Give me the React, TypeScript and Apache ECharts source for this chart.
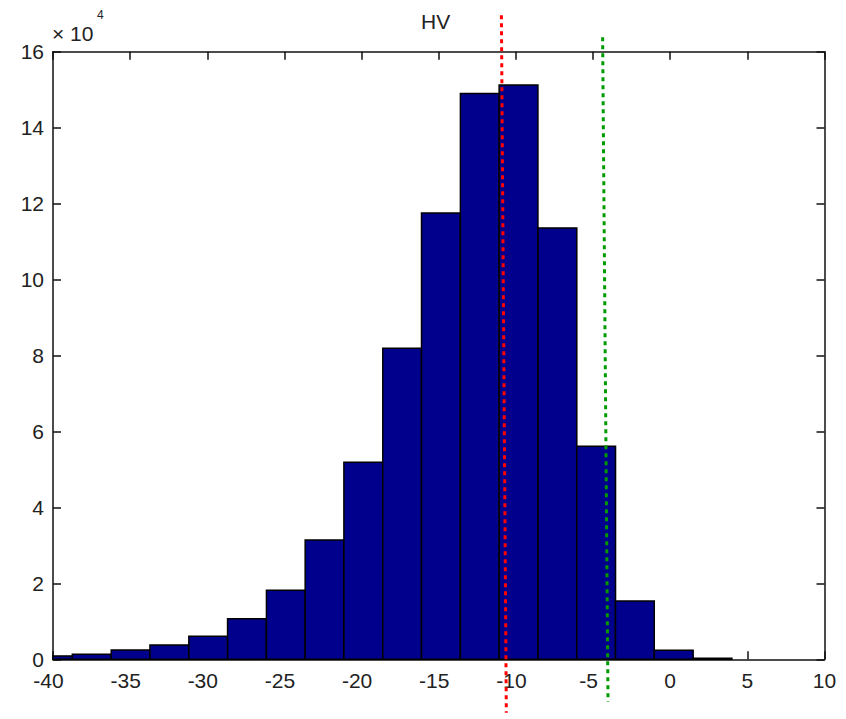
import React, { useEffect, useRef } from "react";
import * as echarts from "echarts";

// Histogram of HV values: bin centres and counts per bin
const binCenters = [
  -40.0, -37.49, -34.97, -32.46, -29.94, -27.43, -24.91, -22.4, -19.89,
  -17.37, -14.86, -12.34, -9.83, -7.31, -4.8, -2.29, 0.23, 2.74,
];
const binWidth = 2.514;
const counts = [
  900, 1300, 2450, 3750, 6050, 10700, 18200, 31400, 51900, 81900, 117500,
  149000, 151200, 113600, 56100, 15350, 2370, 260,
];

// Threshold markers: [xTop, yTop, xBottom, yBottom]
const thresholdLines = [
  [-10.94, 169600, -10.62, -14100],
  [-4.38, 163800, -4.03, -11200],
];
const thresholdColors = ["#ff0000", "#009a00"];

const xTicks = { min: -40, max: 10, interval: 5 };
const yTicks = { min: 0, max: 160000, interval: 20000 };
const yScale = 10000;

const FONT = "Liberation Sans, Arial, Helvetica, sans-serif";
const AXIS_COLOR = "#111";

export default function App() {
  const ref = useRef<HTMLDivElement>(null);

  useEffect(() => {
    document.body.style.margin = "0";
    if (!ref.current) return;
    const chart = echarts.init(ref.current, undefined, { renderer: "svg" });

    const axisCommon = {
      type: "value" as const,
      splitLine: { show: false },
      axisLine: {
        show: true,
        onZero: false,
        lineStyle: { color: AXIS_COLOR, width: 1.5 },
      },
      axisTick: {
        show: true,
        inside: true,
        length: 8,
        lineStyle: { color: AXIS_COLOR, width: 1.5 },
      },
    };

    chart.setOption({
      animation: false,
      backgroundColor: "#ffffff",
      title: {
        text: "HV",
        left: 421,
        top: 11,
        padding: 0,
        textStyle: {
          fontFamily: FONT,
          fontSize: 21,
          fontWeight: "normal",
          color: "#222",
        },
      },
      graphic: [
        {
          type: "text",
          left: 52,
          top: 23,
          style: {
            text: "× 10",
            font: `21px ${FONT}`,
            fill: "#222",
          },
        },
        {
          type: "text",
          left: 97,
          top: 9,
          style: {
            text: "4",
            font: `12px ${FONT}`,
            fill: "#222",
          },
        },
      ],
      grid: { left: 53, right: 21.5, top: 51.7, bottom: 59.7, containLabel: false },
      xAxis: [
        {
          ...axisCommon,
          position: "bottom",
          ...xTicks,
          axisLabel: {
            fontFamily: FONT,
            fontSize: 21,
            color: "#222",
            margin: 11,
            formatter: (v: number) => (v < 0 ? `{n|${v}}` : `${v}`),
            rich: {
              n: {
                fontFamily: FONT,
                fontSize: 21,
                color: "#222",
                padding: [0, 9, 0, 0],
              },
            },
          },
        },
        {
          ...axisCommon,
          position: "top",
          ...xTicks,
          axisLabel: { show: false },
        },
      ],
      yAxis: [
        {
          ...axisCommon,
          position: "left",
          ...yTicks,
          axisLabel: {
            fontFamily: FONT,
            fontSize: 21,
            color: "#222",
            margin: 9,
            formatter: (v: number) => `${v / yScale}`,
          },
        },
        {
          ...axisCommon,
          position: "right",
          ...yTicks,
          axisLabel: { show: false },
        },
      ],
      series: [
        {
          type: "custom",
          name: "HV",
          xAxisIndex: 0,
          yAxisIndex: 0,
          data: binCenters.map((c, i) => [c, counts[i]]),
          renderItem: (params: any, api: any) => {
            const c = api.value(0);
            const v = api.value(1);
            const p0 = api.coord([c - binWidth / 2, v]);
            const p1 = api.coord([c + binWidth / 2, 0]);
            const cs = params.coordSys;
            const rect = echarts.graphic.clipRectByRect(
              { x: p0[0], y: p0[1], width: p1[0] - p0[0], height: p1[1] - p0[1] },
              { x: cs.x, y: cs.y - 2, width: cs.width, height: cs.height + 4 }
            );
            if (!rect) return null;
            return {
              type: "rect",
              shape: rect,
              style: { fill: "#00008c", stroke: "#000", lineWidth: 1.5 },
            };
          },
        },
        {
          type: "custom",
          name: "thresholds",
          xAxisIndex: 0,
          yAxisIndex: 0,
          clip: false,
          z: 5,
          data: thresholdLines,
          renderItem: (params: any, api: any) => {
            const a = api.coord([api.value(0), api.value(1)]);
            const b = api.coord([api.value(2), api.value(3)]);
            return {
              type: "line",
              shape: { x1: a[0], y1: a[1], x2: b[0], y2: b[1] },
              style: {
                stroke: thresholdColors[params.dataIndex],
                lineWidth: 3,
                lineDash: [4, 4],
                lineCap: "butt",
              },
            };
          },
        },
      ],
    });

    return () => chart.dispose();
  }, []);

  return <div ref={ref} style={{ width: 846, height: 719 }} />;
}
